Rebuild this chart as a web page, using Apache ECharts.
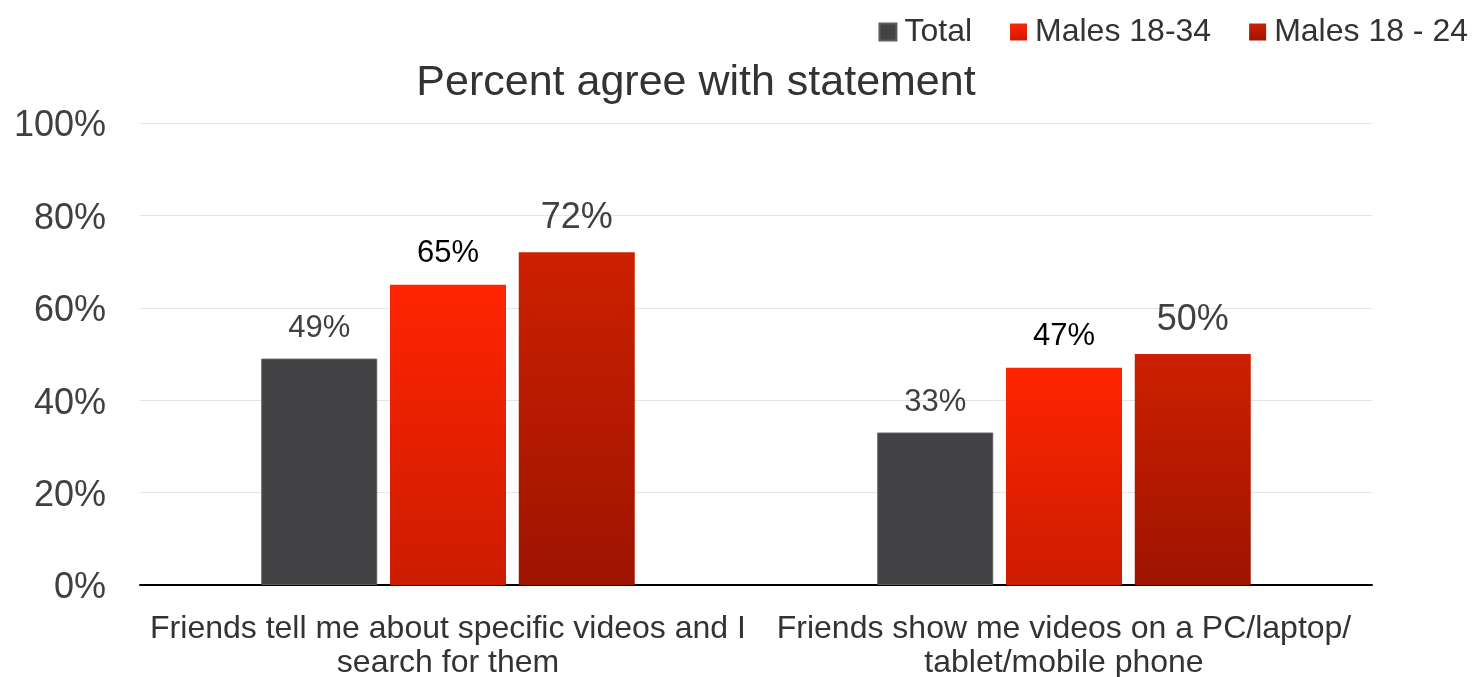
<!DOCTYPE html>
<html>
<head>
<meta charset="utf-8">
<script src="https://cdn.jsdelivr.net/npm/echarts@6/dist/echarts.min.js"></script>
<style>
  html, body { margin: 0; padding: 0; background: #ffffff; }
  #chart { width: 1472px; height: 677px; }
</style>
</head>
<body>
<div id="chart"></div>
<script>
// Survey results: share of respondents agreeing with each statement
var categories = [
  'Friends tell me about specific videos and I\nsearch for them',
  'Friends show me videos on a PC/laptop/\ntablet/mobile phone'
];
var seriesNames = ['Total', 'Males 18-34', 'Males 18 - 24'];
var totalValues = [49, 33];
var males1834Values = [65, 47];
var males1824Values = [72, 50];
var yTicks = [0, 20, 40, 60, 80, 100];

var FONT = '"Liberation Sans", Arial, sans-serif';

function grad(top, bottom) {
  return new echarts.graphic.LinearGradient(0, 0, 0, 1, [
    { offset: 0, color: top },
    { offset: 1, color: bottom }
  ]);
}

var chart = echarts.init(document.getElementById('chart'));
chart.setOption({
  animation: false,
  textStyle: { fontFamily: FONT },
  title: {
    text: 'Percent agree with statement',
    left: 691,
    textAlign: 'center',
    top: 57,
    textStyle: { fontFamily: FONT, fontSize: 43, fontWeight: 'normal', color: '#333333' }
  },
  legend: {
    right: -1,
    top: 11,
    itemWidth: 17,
    itemHeight: 17,
    itemGap: 38,
    icon: 'rect',
    textStyle: { fontFamily: FONT, fontSize: 32, color: '#333333', padding: [0, 0, 0, 3] },
    data: seriesNames
  },
  grid: {
    left: 140, right: 100, top: 123, bottom: 92,
    containLabel: false,
    outerBoundsMode: 'none'
  },
  xAxis: {
    type: 'category',
    data: categories,
    axisLine: { lineStyle: { color: '#000000', width: 2 } },
    axisTick: { show: false },
    axisLabel: {
      fontFamily: FONT, fontSize: 32, color: '#333333',
      lineHeight: 34, margin: 27, interval: 0
    }
  },
  yAxis: {
    type: 'value',
    min: yTicks[0],
    max: yTicks[yTicks.length - 1],
    interval: yTicks[1] - yTicks[0],
    axisLine: { show: false },
    axisTick: { show: false },
    splitLine: { lineStyle: { color: '#e4e4e4', width: 1 } },
    axisLabel: {
      fontFamily: FONT, fontSize: 36, color: '#404040', margin: 34,
      verticalAlign: 'top', lineHeight: 7,
      formatter: function (v) { return v + '%'; }
    }
  },
  series: [
    {
      name: seriesNames[0],
      type: 'bar',
      data: totalValues,
      barWidth: 116,
      barGap: '11%',
      itemStyle: { color: '#434345', borderColor: '#5e5e61', borderWidth: 1 },
      label: {
        show: true, position: 'top', distance: 15,
        fontFamily: FONT, fontSize: 31, color: '#404040',
        formatter: '{c}%'
      }
    },
    {
      name: seriesNames[1],
      type: 'bar',
      data: males1834Values,
      barWidth: 116,
      barGap: '11%',
      itemStyle: { color: grad('#ff2400', '#cc1c00') },
      label: {
        show: true, position: 'top', distance: 16,
        fontFamily: FONT, fontSize: 31, color: '#000000',
        formatter: '{c}%'
      }
    },
    {
      name: seriesNames[2],
      type: 'bar',
      data: males1824Values,
      barWidth: 116,
      barGap: '11%',
      itemStyle: { color: grad('#cc2000', '#9e1400') },
      label: {
        show: true, position: 'top', distance: 16,
        fontFamily: FONT, fontSize: 36, color: '#404040',
        formatter: '{c}%'
      }
    }
  ]
});
</script>
</body>
</html>
